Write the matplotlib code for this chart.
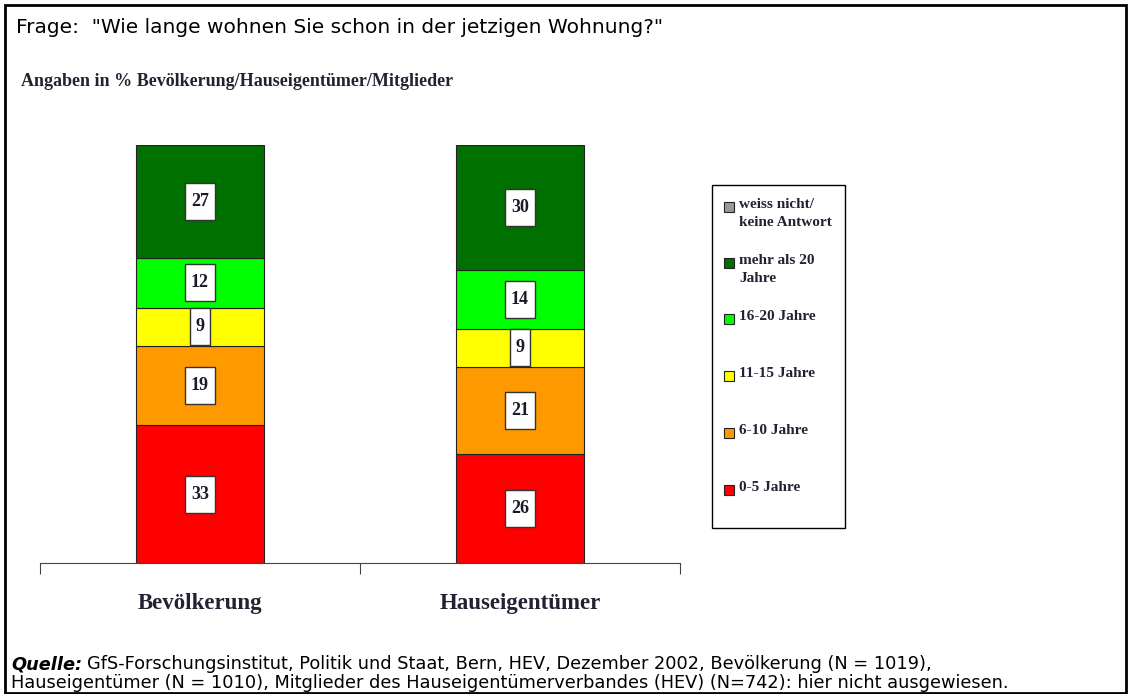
import matplotlib.pyplot as plt
from matplotlib.patches import Rectangle

# data
groups = ["Bevölkerung", "Hauseigentümer"]
labels = ["0-5 Jahre", "6-10 Jahre", "11-15 Jahre", "16-20 Jahre",
          "mehr als 20\nJahre", "weiss nicht/\nkeine Antwort"]
colors = ["#ff0000", "#ff9900", "#ffff00", "#00ff00", "#007000", "#999999"]
bevoelkerung = [33, 19, 9, 12, 27, 0]
hauseigentuemer = [26, 21, 9, 14, 30, 0]
values = [bevoelkerung, hauseigentuemer]

W, H = 1129, 694
fig = plt.figure(figsize=(W / 100, H / 100), dpi=100)

serif = "Liberation Serif"
sans = "DejaVu Sans"

ax = fig.add_axes([40 / W, (H - 563) / H, 640 / W, 418 / H])
ax.set_xlim(0, 2)
ax.set_ylim(0, 100)

px_x = 2 / 640   # data units per pixel
px_y = 100 / 418

for i, vals in enumerate(values):
    xc = i + 0.5
    bottom = 0
    for v, c in zip(vals, colors):
        if v == 0:
            continue
        ax.bar(xc, v, width=0.4, bottom=bottom, color=c,
               edgecolor="#222222", linewidth=0.8)
        txt = str(v)
        bw = (30 if len(txt) > 1 else 20) * px_x
        bh = min(37 * px_y, v)
        yc = bottom + v / 2
        ax.add_patch(Rectangle((xc - bw / 2, yc - bh / 2), bw, bh,
                               facecolor="white", edgecolor="#333333",
                               linewidth=1.0, zorder=3))
        ax.text(xc, yc, txt, ha="center", va="center", fontsize=13,
                fontweight="bold", family=serif, color="#1a1a2a", zorder=4)
        bottom += v

for s in ["top", "right", "left"]:
    ax.spines[s].set_visible(False)
ax.spines["bottom"].set_color("#444444")
ax.set_yticks([])
ax.set_xticks([0, 1, 2])
ax.set_xticklabels([])
ax.tick_params(axis="x", direction="out", length=8, color="#444444")
for i, g in enumerate(groups):
    ax.text(i + 0.5, -(603 - 563) * px_y, g, ha="center", va="center",
            fontsize=16.5, fontweight="bold", family=serif, color="#222233")

# legend box
fig.patches.append(Rectangle((712 / W, (H - 528) / H), 133 / W, 343 / H,
                             transform=fig.transFigure, facecolor="white",
                             edgecolor="black", linewidth=1.0))
leg_y = [490, 433, 376, 319, 263, 207]
for lab, c, y in zip(labels, colors, leg_y):
    fig.patches.append(Rectangle((724 / W, (H - y - 5) / H), 10 / W, 10 / H,
                                 transform=fig.transFigure, facecolor=c,
                                 edgecolor="#222222", linewidth=0.8))
    fig.text(739 / W, (H - y + 9) / H, lab, ha="left", va="top",
             fontsize=11, fontweight="bold", family=serif,
             color="#222233", linespacing=1.45)

# texts
fig.text(16 / W, (H - 33) / H, 'Frage:  "Wie lange wohnen Sie schon in der jetzigen Wohnung?"',
         ha="left", va="baseline", fontsize=14.5, family=sans)
fig.text(21 / W, (H - 81) / H, "Angaben in % Bevölkerung/Hauseigentümer/Mitglieder",
         ha="left", va="center", fontsize=13, fontweight="bold", family=serif,
         color="#222233")

fs = 12.8
q = fig.text(11 / W, (H - 669) / H, "Quelle:", ha="left", va="baseline", fontsize=fs,
             fontweight="bold", style="italic", family=sans)
fig.canvas.draw()
qx = q.get_window_extent().x1 + 5
fig.text(qx / W, (H - 669) / H,
         "GfS-Forschungsinstitut, Politik und Staat, Bern, HEV, Dezember 2002, Bevölkerung (N = 1019),",
         ha="left", va="baseline", fontsize=fs, family=sans)
fig.text(11 / W, (H - 688) / H,
         "Hauseigentümer (N = 1010), Mitglieder des Hauseigentümerverbandes (HEV) (N=742): hier nicht ausgewiesen.",
         ha="left", va="baseline", fontsize=fs, family=sans)

# outer frame
fig.patches.append(Rectangle((5 / W, 1 / H), 1121 / W, (H - 6) / H,
                             transform=fig.transFigure, facecolor="none",
                             edgecolor="black", linewidth=2))

fig.savefig("out.png", dpi=100)
